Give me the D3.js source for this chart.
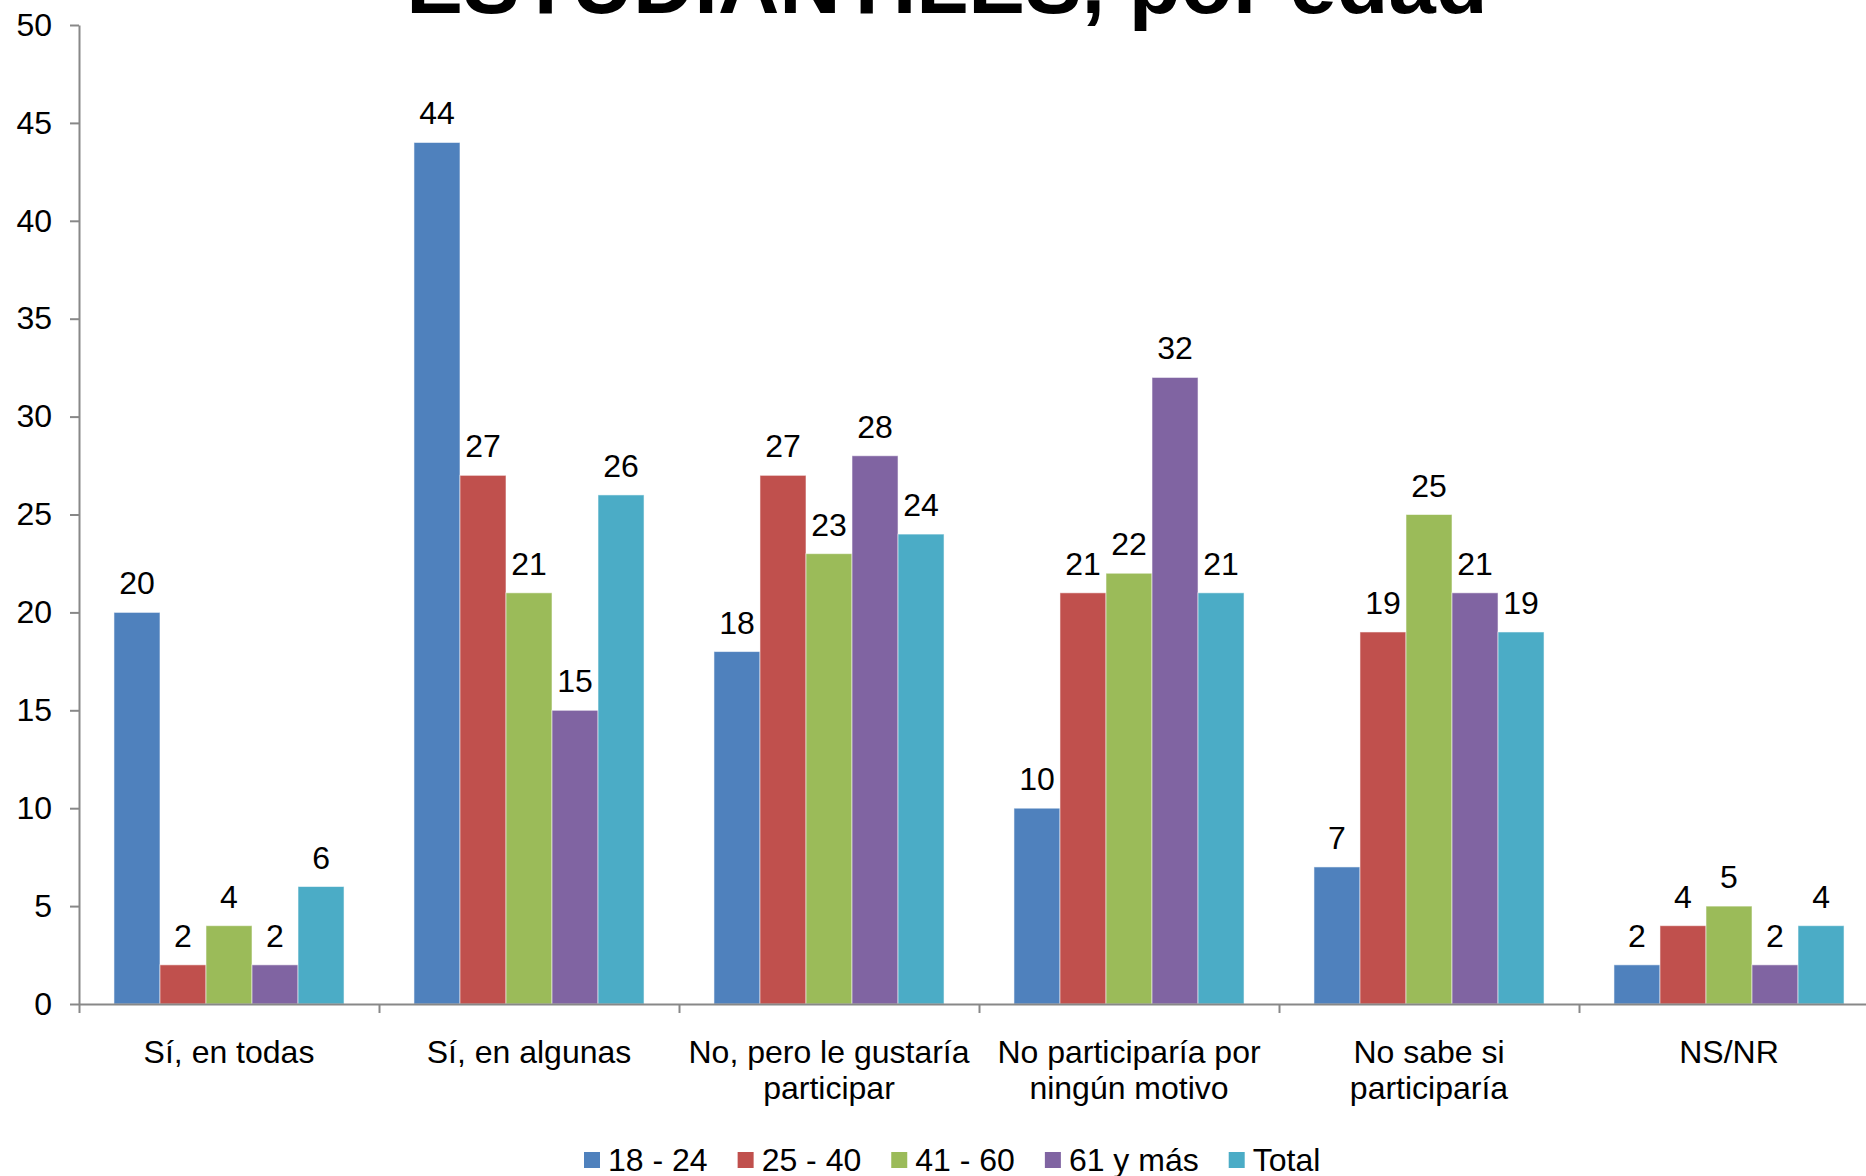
<!DOCTYPE html>
<html>
<head>
<meta charset="utf-8">
<script src="https://cdn.jsdelivr.net/npm/d3@7"></script>
<style>
  html, body { margin: 0; padding: 0; background: #fff; }
  svg { display: block; font-family: "Liberation Sans", Arial, sans-serif; }
</style>
</head>
<body>
<svg id="chart" width="1866" height="1176"></svg>
<script>
// Categories (two-line labels split on "\n")
const categories = [
  "Sí, en todas",
  "Sí, en algunas",
  "No, pero le gustaría\nparticipar",
  "No participaría por\nningún motivo",
  "No sabe si\nparticiparía",
  "NS/NR"
];

const seriesNames = ["18 - 24", "25 - 40", "41 - 60", "61 y más", "Total"];
const seriesColors = ["#4F81BD", "#C0504D", "#9BBB59", "#8064A2", "#4BACC6"];

const values18_24 = [20, 44, 18, 10, 7, 2];
const values25_40 = [2, 27, 27, 21, 19, 4];
const values41_60 = [4, 21, 23, 22, 25, 5];
const values61mas = [2, 15, 28, 32, 21, 2];
const valuesTotal = [6, 26, 24, 21, 19, 4];

const seriesValues = [values18_24, values25_40, values41_60, values61mas, valuesTotal];

const yTicks = [0, 5, 10, 15, 20, 25, 30, 35, 40, 45, 50];

const titleText = "ESTUDIANTILES, por edad";

// Layout
const svg = d3.select("#chart");
const plot = { left: 79, right: 1879, top: 25, bottom: 1004 };
const axisColor = "#888888";
const fontSize = 32;

const x0 = d3.scaleBand()
  .domain(categories)
  .range([plot.left, plot.right])
  .padding(0);

const x1 = d3.scaleBand()
  .domain(seriesNames)
  .range([0, x0.bandwidth()])
  .paddingInner(0)
  .paddingOuter(0.76);

const y = d3.scaleLinear().domain([0, 50]).range([plot.bottom, plot.top]);

// Title (first line sits above the visible area)
svg.append("text")
  .attr("x", 947)
  .attr("y", 13)
  .attr("text-anchor", "middle")
  .style("font-size", "85px")
  .style("font-weight", "bold")
  .attr("fill", "#000")
  .text(titleText);

// Bars
const rows = categories.map((c, i) => ({
  cat: c,
  vals: seriesNames.map((s, j) => ({ series: s, color: seriesColors[j], value: seriesValues[j][i] }))
}));

const groups = svg.append("g").selectAll("g")
  .data(rows)
  .join("g")
  .attr("transform", d => `translate(${x0(d.cat)},0)`);

groups.selectAll("rect")
  .data(d => d.vals)
  .join("rect")
  .attr("x", d => x1(d.series))
  .attr("y", d => y(d.value))
  .attr("width", x1.bandwidth())
  .attr("height", d => y(0) - y(d.value))
  .attr("fill", d => d.color)
  .attr("stroke", "rgba(255,255,255,0.55)")
  .attr("stroke-width", 1);

// Value labels
groups.selectAll("text.val")
  .data(d => d.vals)
  .join("text")
  .attr("class", "val")
  .attr("x", d => x1(d.series) + x1.bandwidth() / 2)
  .attr("y", d => y(d.value) - 18)
  .attr("text-anchor", "middle")
  .style("font-size", fontSize + "px")
  .attr("fill", "#000")
  .text(d => d.value);

// Y axis
const yAxis = svg.append("g")
  .attr("transform", `translate(${plot.left},0)`)
  .call(d3.axisLeft(y).tickValues(yTicks).tickSize(9).tickPadding(18).tickSizeOuter(0));
yAxis.select(".domain").attr("stroke", axisColor).attr("stroke-width", 2);
yAxis.selectAll(".tick line").attr("stroke", axisColor).attr("stroke-width", 2);
yAxis.selectAll(".tick text")
  .style("font-size", fontSize + "px")
  .style("font-family", "'Liberation Sans', Arial, sans-serif")
  .attr("fill", "#000");

// X axis: ticks on category boundaries
const xb = d3.scaleLinear().domain([0, categories.length]).range([plot.left, plot.right]);
const xAxis = svg.append("g")
  .attr("transform", `translate(0,${plot.bottom})`)
  .call(d3.axisBottom(xb).tickValues(d3.range(0, categories.length + 1)).tickSize(9).tickSizeOuter(0).tickFormat(""));
xAxis.select(".domain").attr("stroke", axisColor).attr("stroke-width", 2);
xAxis.selectAll(".tick line").attr("stroke", axisColor).attr("stroke-width", 2);

// Category labels
const catLabels = svg.append("g").selectAll("text")
  .data(categories)
  .join("text")
  .attr("x", d => x0(d) + x0.bandwidth() / 2)
  .attr("y", 1063)
  .attr("text-anchor", "middle")
  .style("font-size", fontSize + "px")
  .attr("fill", "#000");
catLabels.selectAll("tspan")
  .data(d => d.split("\n"))
  .join("tspan")
  .attr("x", function () { return d3.select(this.parentNode).attr("x"); })
  .attr("dy", (d, i) => i === 0 ? 0 : 36)
  .text(d => d);

// Legend
const legend = svg.append("g");
const legendItems = legend.selectAll("g")
  .data(seriesNames.map((s, j) => ({ name: s, color: seriesColors[j] })))
  .join("g");
legendItems.append("rect")
  .attr("width", 16).attr("height", 16)
  .attr("y", 1152)
  .attr("fill", d => d.color);
legendItems.append("text")
  .attr("x", 24)
  .attr("y", 1171)
  .style("font-size", fontSize + "px")
  .attr("fill", "#000")
  .text(d => d.name);

let cursor = 0;
const gap = 30;
legendItems.each(function () {
  const w = this.getBBox().width;
  d3.select(this).attr("transform", `translate(${cursor},0)`);
  cursor += w + gap;
});
const totalW = cursor - gap;
legend.attr("transform", `translate(${Math.round(952 - totalW / 2)},0)`);
</script>
</body>
</html>
